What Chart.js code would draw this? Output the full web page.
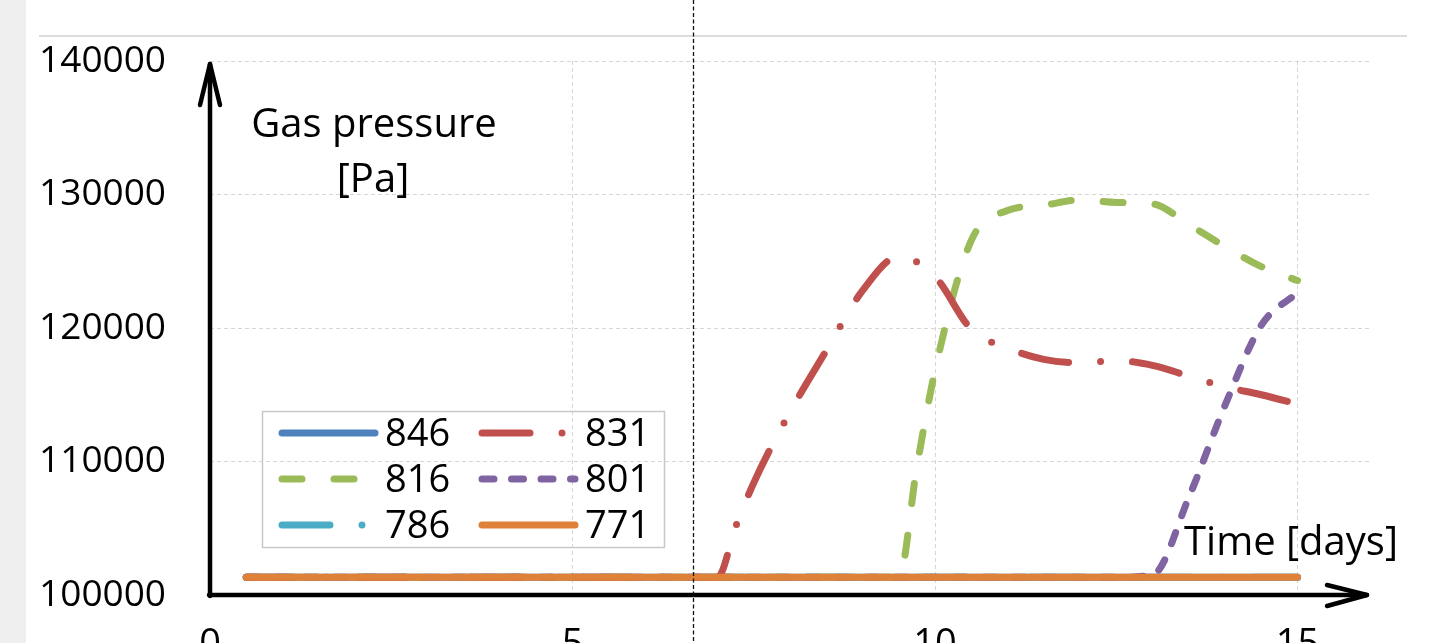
<!DOCTYPE html>
<html>
<head>
<meta charset="utf-8">
<script src="https://cdn.jsdelivr.net/npm/chart.js@4.4.1/dist/chart.umd.min.js"></script>
<style>
  html, body { margin: 0; padding: 0; background: #ffffff; }
  body { width: 1450px; height: 643px; overflow: hidden; position: relative; }
  #strip { position: absolute; left: 0; top: 0; width: 26px; height: 643px; background: #efefef; }
  #rule { position: absolute; left: 39px; top: 35px; width: 1368px; height: 2px; background: #dcdcdc; }
  #wrap { position: absolute; left: 0; top: 0; width: 1450px; height: 643px; }
</style>
</head>
<body>
<div id="strip"></div>
<div id="rule"></div>
<div id="wrap"><canvas id="chart" width="1450" height="643"></canvas></div>
<script>
// Gas pressure [Pa] at six monitoring points versus time [days]
const seriesNames = ['846', '831', '816', '801', '786', '771'];

const days846 = [0.5, 15];
const pa846   = [101325, 101325];

const days831 = [0.5, 7.0, 7.25, 7.5, 8.0, 8.5, 9.0, 9.5, 10.0, 10.5, 11.0, 11.5, 12.0, 12.5, 13.0, 13.5, 14.0, 14.5, 15.0];
const pa831   = [101325, 101325, 105100, 108400, 113700, 118300, 122800, 125350, 123850, 119900, 118500, 117650, 117400, 117550, 117200, 116400, 115600, 115000, 114300];

const days816 = [0.5, 9.5, 9.75, 10.0, 10.5, 11.0, 11.5, 12.0, 12.5, 13.0, 13.5, 14.0, 14.5, 15.0];
const pa816   = [101325, 101325, 109600, 116800, 126550, 128800, 129200, 129600, 129400, 129300, 127750, 126100, 124600, 123550];

const days801 = [0.5, 12.5, 13.0, 13.5, 14.0, 14.5, 15.0];
const pa801   = [101325, 101325, 101500, 107300, 114200, 120200, 122650];

const days786 = [0.5, 15];
const pa786   = [101325, 101325];

const days771 = [0.5, 15];
const pa771   = [101325, 101325];

// vertical guide marker on the time axis
const guideDay = 6.66;

const xTicks = [0, 5, 10, 15];
const yTicks = [100000, 110000, 120000, 130000, 140000];

const FONT = "'Open Sans', 'Noto Sans', sans-serif";

const styles = {
  '846': { color: '#4F81BD', dash: [] },
  '831': { color: '#C0504D', dash: [48, 32, 0, 32] },
  '816': { color: '#9BBB59', dash: [20, 32] },
  '801': { color: '#8064A2', dash: [12, 17.5] },
  '786': { color: '#4BACC6', dash: [48, 32, 0, 32] },
  '771': { color: '#DF8139', dash: [] }
};

// drawing order: orange on top, then red, purple, green, cyan, blue
const drawOrder = { '771': 1, '831': 2, '801': 3, '816': 4, '786': 5, '846': 6 };

const seriesData = {
  '846': [days846, pa846], '831': [days831, pa831], '816': [days816, pa816],
  '801': [days801, pa801], '786': [days786, pa786], '771': [days771, pa771]
};

function points(days, values) {
  return days.map((d, i) => ({ x: d, y: values[i] }));
}

const datasets = seriesNames.map(name => ({
  label: name,
  data: points(seriesData[name][0], seriesData[name][1]),
  borderColor: styles[name].color,
  borderDash: styles[name].dash,
  borderWidth: 7,
  borderCapStyle: 'round',
  borderJoinStyle: 'round',
  pointRadius: 0,
  fill: false,
  tension: 0.4,
  cubicInterpolationMode: 'monotone',
  order: drawOrder[name]
}));

function arrowPath(ctx, pts) {
  ctx.beginPath();
  ctx.moveTo(pts[0][0], pts[0][1]);
  for (let i = 1; i < pts.length; i++) ctx.lineTo(pts[i][0], pts[i][1]);
  ctx.stroke();
}

const decorations = {
  id: 'decorations',
  afterDraw(chart) {
    const { ctx, chartArea: a, scales } = chart;
    const L = a.left, R = a.right, T = a.top, B = a.bottom;
    ctx.save();

    // axis arrows
    ctx.strokeStyle = '#000';
    ctx.lineWidth = 4.5;
    ctx.lineJoin = 'round';
    ctx.lineCap = 'round';
    arrowPath(ctx, [[L, B + 1], [L, T + 3]]);
    arrowPath(ctx, [[L - 10, T + 44], [L, T + 3], [L + 10, T + 44]]);
    arrowPath(ctx, [[L - 1, B], [R - 3, B]]);
    arrowPath(ctx, [[R - 43, B - 10], [R - 3, B], [R - 43, B + 11]]);

    // axis titles
    ctx.fillStyle = '#000';
    ctx.font = `40px ${FONT}`;
    ctx.textAlign = 'center';
    ctx.textBaseline = 'alphabetic';
    ctx.fillText('Gas pressure', L + 164, T + 76);
    ctx.fillText('[Pa]', L + 163, T + 131);
    ctx.fillText('Time [days]', R - 79, B - 40);

    // legend, two columns
    const lx = L + 52, ly = B - 184, lw = 402, lh = 136;
    ctx.strokeStyle = '#c8c8c8';
    ctx.lineWidth = 1.5;
    ctx.strokeRect(lx + 0.5, ly + 0.5, lw, lh);
    ctx.font = `38px ${FONT}`;
    ctx.textAlign = 'left';
    seriesNames.forEach((name, i) => {
      const col = i % 2, row = Math.floor(i / 2);
      const sx = lx + 20 + col * 200;
      const sy = ly + 22 + row * 46;
      ctx.save();
      ctx.strokeStyle = styles[name].color;
      ctx.lineWidth = 7;
      ctx.lineCap = 'round';
      ctx.setLineDash(styles[name].dash);
      ctx.beginPath();
      ctx.moveTo(sx, sy);
      ctx.lineTo(sx + 93, sy);
      ctx.stroke();
      ctx.restore();
      ctx.fillStyle = '#000';
      ctx.fillText(name, sx + 103, sy + 13);
    });

    // dashed vertical guide across the whole figure
    const gx = Math.round(scales.x.getPixelForValue(guideDay)) + 0.5;
    ctx.strokeStyle = '#111';
    ctx.lineWidth = 1.3;
    ctx.lineCap = 'butt';
    ctx.setLineDash([4, 2.5]);
    ctx.beginPath();
    ctx.moveTo(gx, 0);
    ctx.lineTo(gx, chart.height);
    ctx.stroke();
    ctx.restore();
  }
};

const gridStyle = { color: '#d6d6d6', lineWidth: 1, drawTicks: false, borderDash: [4, 3] };

new Chart(document.getElementById('chart'), {
  type: 'line',
  data: { datasets },
  options: {
    responsive: false,
    animation: false,
    devicePixelRatio: 1,
    layout: { padding: { top: 61, right: 80, left: 0, bottom: 0 } },
    plugins: { legend: { display: false }, tooltip: { enabled: false } },
    scales: {
      x: {
        type: 'linear',
        min: 0,
        max: 16,
        grid: gridStyle,
        border: { display: false, dash: [4, 3] },
        afterBuildTicks(scale) { scale.ticks = xTicks.map(v => ({ value: v })); },
        ticks: { padding: 27, color: '#000', font: { family: FONT, size: 38 } },
        afterFit(scale) {
          scale.height = 48;
          scale.paddingLeft = 0; scale.paddingRight = 0;
        }
      },
      y: {
        type: 'linear',
        min: 100000,
        max: 140000,
        grid: gridStyle,
        border: { display: false, dash: [4, 3] },
        afterBuildTicks(scale) { scale.ticks = yTicks.map(v => ({ value: v })); },
        ticks: { padding: 44, color: '#000', font: { family: FONT, size: 37 }, callback: v => String(v) },
        afterFit(scale) {
          scale.width = 210;
          scale.paddingTop = 0; scale.paddingBottom = 0;
        }
      }
    }
  },
  plugins: [decorations]
});
</script>
</body>
</html>
